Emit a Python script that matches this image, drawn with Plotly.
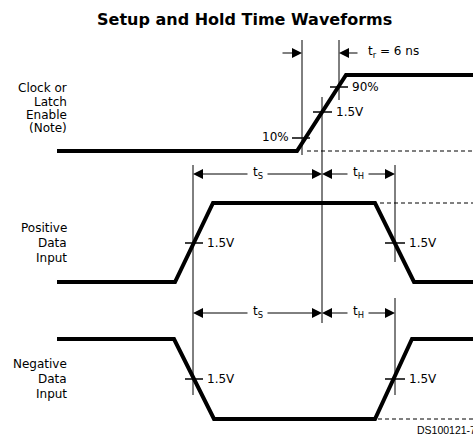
import plotly.graph_objects as go

# ---- data (diagram units: x = time axis, y = drawing level, top-down) ----
clock_t = [57, 297, 346, 476]
clock_v = [151, 151, 75, 75]
pos_t = [57, 175, 213, 375, 414, 476]
pos_v = [282, 282, 203, 203, 282, 282]
neg_t = [57, 174, 214, 375, 412, 476]
neg_v = [339, 339, 419, 419, 339, 339]

# reference (timing) lines: x, y0, y1
ref_x = [302, 339, 322, 193, 395, 395]
ref_y0 = [40, 40, 97, 165, 165, 298]
ref_y1 = [155, 100, 323, 395, 262, 395]

# level tick marks: y, x0, x1, label
tick_y = [138, 87, 112, 243, 243, 379, 379]
tick_x0 = [292, 330, 313, 185, 385, 185, 385]
tick_x1 = [310, 348, 332, 203, 405, 203, 405]
tick_lbl = ["10%", "90%", "1.5V", "1.5V", "1.5V", "1.5V", "1.5V"]

# dashed reference levels: y, x0
dash_y = [151, 203, 419]
dash_x0 = [307, 380, 378]

# row labels
row_labels = [["Clock or", "Latch", "Enable", "(Note)"],
              ["Positive", "Data", "Input"],
              ["Negative", "Data", "Input"]]
row_label_y = [[88, 102, 115, 128], [228, 243, 258], [364, 379, 394]]

title = "Setup and Hold Time Waveforms"
FONT = "DejaVu Sans"

fig = go.Figure()

def seg_trace(xs, ys, width, dash="solid"):
    fig.add_trace(go.Scatter(x=xs, y=ys, mode="lines",
                             line=dict(color="black", width=width, dash=dash),
                             hoverinfo="skip", cliponaxis=False))

# waveforms
for t, v in [(clock_t, clock_v), (pos_t, pos_v), (neg_t, neg_v)]:
    seg_trace(t, v, 4)

# reference vertical lines
xs, ys = [], []
for x, a, b in zip(ref_x, ref_y0, ref_y1):
    xs += [x, x, None]; ys += [a, b, None]
seg_trace(xs, ys, 1)

# tick marks
xs, ys = [], []
for y, a, b in zip(tick_y, tick_x0, tick_x1):
    xs += [a, b, None]; ys += [y, y, None]
seg_trace(xs, ys, 1.5)

# dashed lines
xs, ys = [], []
for y, a in zip(dash_y, dash_x0):
    xs += [a, 473, None]; ys += [y, y, None]
seg_trace(xs, ys, 1, dash="4px,3px")

ann = []
def txt(x, y, s, anchor="left", size=12, bold=False, family=FONT):
    ann.append(dict(x=x, y=y, text=(f"<b>{s}</b>" if bold else s), showarrow=False,
                    xanchor=anchor, yanchor="middle",
                    font=dict(family=family, size=size, color="black")))

def arrow(x_tip, x_tail, y):
    ann.append(dict(x=x_tip, y=y, ax=x_tail, ay=y, axref="x", ayref="y",
                    text="", showarrow=True, arrowhead=2, arrowsize=2,
                    arrowwidth=1, arrowcolor="black", standoff=0))

# title
txt(244, 19, title, anchor="center", size=16, bold=True)

# tick labels
for y, a, b, l in zip(tick_y, tick_x0, tick_x1, tick_lbl):
    if l == "10%":
        txt(a - 1, y - 1, l, anchor="right")
    else:
        txt(b + 2, y, l)

# rise time
arrow(302, 281, 53)
arrow(339, 359, 53)
txt(366, 52, "t<sub>r</sub> = 6 ns")

# setup / hold arrows
for y in [174, 313]:
    arrow(193, 249, y)
    arrow(322, 266, y)
    arrow(322, 349, y)
    arrow(395, 367, y)
    txt(257.5, y - 1, "t<sub>S</sub>", anchor="center")
    txt(358, y - 1, "t<sub>H</sub>", anchor="center")

# row labels
for lines, ys_ in zip(row_labels, row_label_y):
    for s, y in zip(lines, ys_):
        txt(69, y, s, anchor="right")

txt(415, 430, "DS100121-7", size=10.5, family="Liberation Sans")

fig.update_layout(width=473, height=444, margin=dict(l=0, r=0, t=0, b=0),
                  paper_bgcolor="white", plot_bgcolor="white", showlegend=False,
                  xaxis=dict(range=[0, 473], visible=False, fixedrange=True),
                  yaxis=dict(range=[444, 0], visible=False, fixedrange=True),
                  annotations=ann)
fig.write_html("out.html", config={"displayModeBar": False},
               post_script="document.body.style.margin='0';document.body.style.overflow='hidden';")
